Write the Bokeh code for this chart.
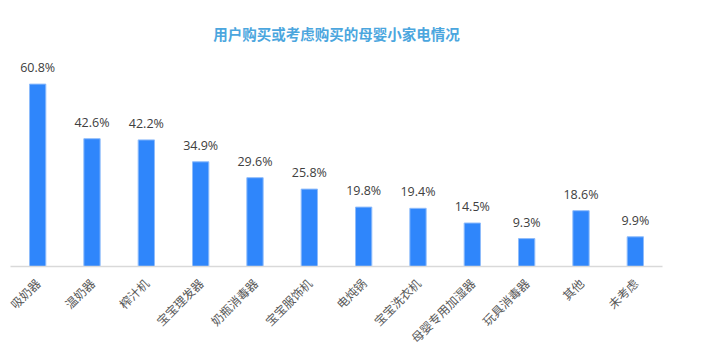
import math
from bokeh.plotting import figure
from bokeh.models import ColumnDataSource, Range1d, LabelSet
from bokeh.core.properties import value
from bokeh.embed import file_html
from bokeh.resources import INLINE

title_text = "用户购买或考虑购买的母婴小家电情况"
categories = ["吸奶器", "温奶器", "榨汁机", "宝宝理发器", "奶瓶消毒器", "宝宝服饰机",
              "电炖锅", "宝宝洗衣机", "母婴专用加湿器", "玩具消毒器", "其他", "未考虑"]
values = [60.8, 42.6, 42.2, 34.9, 29.6, 25.8, 19.8, 19.4, 14.5, 9.3, 18.6, 9.9]
labels = [f"{v:.1f}%" for v in values]

src = ColumnDataSource(dict(cat=categories, val=values, lab=labels))

p = figure(x_range=categories, width=717, height=354, output_backend="svg",
           toolbar_location=None, title=title_text,
           min_border_left=10, min_border_right=55, min_border_top=50, min_border_bottom=88)
p.y_range = Range1d(0, 72)
p.x_range.range_padding = 0

p.vbar(x="cat", top="val", width=0.3, source=src, fill_color="#2F86FB",
       line_color="#8FBCFB", line_width=1)

p.add_layout(LabelSet(x="cat", y="val", text="lab", source=src, y_offset=8,
                      text_align="center", text_baseline="bottom",
                      text_font=value("Open Sans"), text_font_size="12.5px",
                      text_color="#404040"))

p.title.text_font = "Noto Sans CJK SC"
p.title.text_font_size = "14.5px"
p.title.text_font_style = "bold"
p.title.text_color = "#4BA6DE"
p.title.align = "center"
p.title.vertical_align = "top"
p.title.offset = 0
p.title_location = "above"

p.yaxis.visible = False
p.xgrid.visible = False
p.ygrid.visible = False
p.outline_line_color = None
p.xaxis.axis_line_color = "#D9D9D9"
p.xaxis.axis_line_width = 1.5
p.xaxis.major_tick_line_color = None
p.xaxis.minor_tick_line_color = None
p.xaxis.major_label_orientation = math.pi / 4
p.xaxis.major_label_text_font = "Noto Sans CJK SC"
p.xaxis.major_label_text_font_size = "12px"
p.xaxis.major_label_text_color = "#595959"
p.xaxis.major_label_standoff = 8

open("out.html", "w").write(file_html(p, INLINE))
